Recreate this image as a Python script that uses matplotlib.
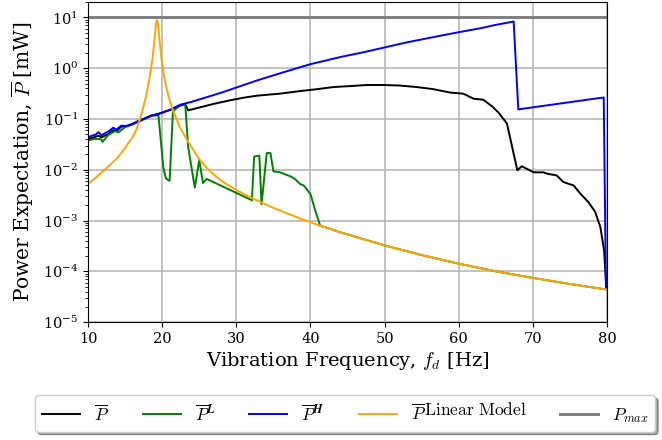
import numpy as np
import matplotlib
matplotlib.use("Agg")
import matplotlib.pyplot as plt

plt.rcParams['font.family'] = ['DejaVu Serif']
plt.rcParams['mathtext.fontset'] = 'cm'

# log10 of power expectation [mW] against drive frequency [Hz]

# combined power expectation
black_f = [10, 10.6, 11.4, 11.8, 12.7, 13.4, 13.8, 14.5, 15.4, 16.8, 18.6, 19.9,
           21.5, 22.4, 23.1, 23.5, 25.1, 27, 29.2, 31, 32.8, 35.9, 38.6, 41, 43.1,
           45.5, 47.6, 49.8, 52, 54.3, 56.5, 58.9, 60.6, 62.0, 63.3, 64.5, 65.4,
           66.5, 67.2, 67.9, 68.5, 70.1, 71.4, 72.0, 73.2, 74.1, 75.5, 76.4, 77.5,
           78.4, 79.1, 79.6, 79.9]
black_log = [-1.39, -1.37, -1.33, -1.36, -1.30, -1.22, -1.24, -1.15, -1.13, -1.04,
             -0.93, -0.88, -0.80, -0.74, -0.71, -0.83, -0.77, -0.70, -0.63, -0.58,
             -0.54, -0.50, -0.45, -0.41, -0.37, -0.35, -0.33, -0.33, -0.34, -0.37,
             -0.41, -0.48, -0.50, -0.60, -0.62, -0.75, -0.88, -1.09, -1.55, -2.01,
             -1.93, -2.05, -2.05, -2.08, -2.11, -2.24, -2.31, -2.47, -2.64, -2.83,
             -3.13, -3.59, -4.31]

# low-energy branch (joins the linear model above ~41 Hz)
green_f = [10, 10.6, 11.2, 11.8, 11.95, 12.7, 13.6, 14.1, 15.0, 16.3, 17.5, 18.6,
           19.5, 20.15, 20.5, 21.0, 21.45, 22.4, 23.1, 23.5, 24.4, 25.0, 25.5, 26.0,
           32.1, 32.4, 33.1, 33.4, 34.1, 34.6, 35.0, 35.9, 36.4, 37.3, 37.9, 38.6,
           39.1, 40.0, 40.6]
green_log = [-1.42, -1.40, -1.39, -1.40, -1.45, -1.32, -1.24, -1.26, -1.16, -1.09,
             -1.01, -0.93, -0.93, -1.95, -2.17, -2.22, -0.85, -0.73, -0.70, -1.55,
             -2.35, -1.81, -2.26, -2.18, -2.60, -1.74, -1.72, -2.68, -1.67, -1.67,
             -2.03, -2.05, -2.08, -2.13, -2.18, -2.28, -2.31, -2.48, -2.78]

# high-energy branch
blue_f = [10, 10.5, 11, 11.4, 11.8, 12.3, 12.8, 13.4, 13.8, 14.5, 15.0, 15.4, 16.0,
          16.8, 17.5, 18.6, 19.2, 19.9, 21, 22.4, 24, 26, 28, 30, 32.8, 35, 38.6,
          40, 44, 47, 50, 53, 57.5, 60, 63, 65, 67.4, 68.03, 79.55, 79.85]
blue_log = [-1.36, -1.33, -1.31, -1.26, -1.32, -1.28, -1.24, -1.17, -1.21, -1.13,
            -1.14, -1.13, -1.10, -1.04, -1.00, -0.93, -0.92, -0.88, -0.82, -0.72,
            -0.66, -0.57, -0.48, -0.38, -0.24, -0.14, 0.02, 0.08, 0.22, 0.31, 0.41,
            0.51, 0.64, 0.71, 0.79, 0.855, 0.92, -0.81, -0.575, -4.32]

# linear model response
orange_f = [10, 11, 12, 13, 14, 15, 15.5, 16, 16.5, 17, 17.3, 17.8, 18.14, 18.3,
            18.5, 18.7, 18.9, 19.0, 19.1, 19.2, 19.3, 19.4, 19.5, 19.6, 19.7, 19.9,
            20.1, 20.3, 20.45, 20.8, 21.3, 21.8, 22.4, 23, 23.5, 24, 25, 26, 27, 28,
            30, 32, 35, 38.6, 41.3, 44, 50, 55, 60, 65, 70, 75, 80]
orange_log = [-2.28, -2.16, -2.03, -1.90, -1.76, -1.57, -1.46, -1.36, -1.22, -1.00,
              -0.85, -0.57, -0.31, -0.19, -0.01, 0.20, 0.47, 0.62, 0.77, 0.90, 0.95,
              0.90, 0.77, 0.62, 0.47, 0.20, -0.01, -0.19, -0.30, -0.52, -0.77, -0.95,
              -1.17, -1.32, -1.45, -1.56, -1.79, -1.96, -2.10, -2.22, -2.40, -2.55,
              -2.75, -2.96, -3.10, -3.23, -3.49, -3.68, -3.85, -4.00, -4.13, -4.25,
              -4.36]

p_max = 10.0
f_range = [10, 80]

# low-energy branch coincides with the linear model from 41.3 Hz on
tail = orange_f.index(41.3)
green_f_all = green_f + orange_f[tail:]
green_log_all = green_log + orange_log[tail:]

fig = plt.figure(figsize=(6.62, 4.40), dpi=100)
ax = fig.add_axes([0.133, 0.268, 0.784, 0.727])

lw = 1.4
ax.plot(black_f, 10 ** np.array(black_log), color='black', lw=lw, label=r'$\overline{P}$')
ax.plot(green_f_all, 10 ** np.array(green_log_all), color='green', lw=lw,
        label=r'$\overline{P}^{\boldsymbol{L}}$')
ax.plot(blue_f, 10 ** np.array(blue_log), color='blue', lw=lw,
        label=r'$\overline{P}^{\boldsymbol{H}}$')
# full-size raised superscript via an unruled display fraction
ax.plot(orange_f, 10 ** np.array(orange_log), color='orange', lw=lw,
        label=r'$\overline{P}\,\genfrac{}{}{0}{0}{\mathrm{Linear\ Model}}{\,}$')
ax.plot(f_range, [p_max, p_max], color='gray', lw=2.2, label=r'$P_{max}$')

ax.set_yscale('log')
ax.set_xlim(10, 80)
ax.set_ylim(1e-5, 20)
ax.set_xticks(np.arange(10, 81, 10))
ax.grid(True, which='major', color='#b8b8b8', lw=1.2)
ax.tick_params(labelsize=10.5)

ax.set_xlabel(r'Vibration Frequency, $f_d$ [Hz]', fontsize=14, labelpad=3)
ax.set_ylabel(r'Power Expectation, $\overline{P}$ [mW]', fontsize=14.5, labelpad=5)

fig.legend(loc='center', bbox_to_anchor=(0.053, 0.018, 0.937, 0.084),
           mode='expand', ncol=5, fontsize=12.5, shadow=True, fancybox=True,
           borderaxespad=0, handlelength=2.2)

fig.savefig('out.png', dpi=100)
